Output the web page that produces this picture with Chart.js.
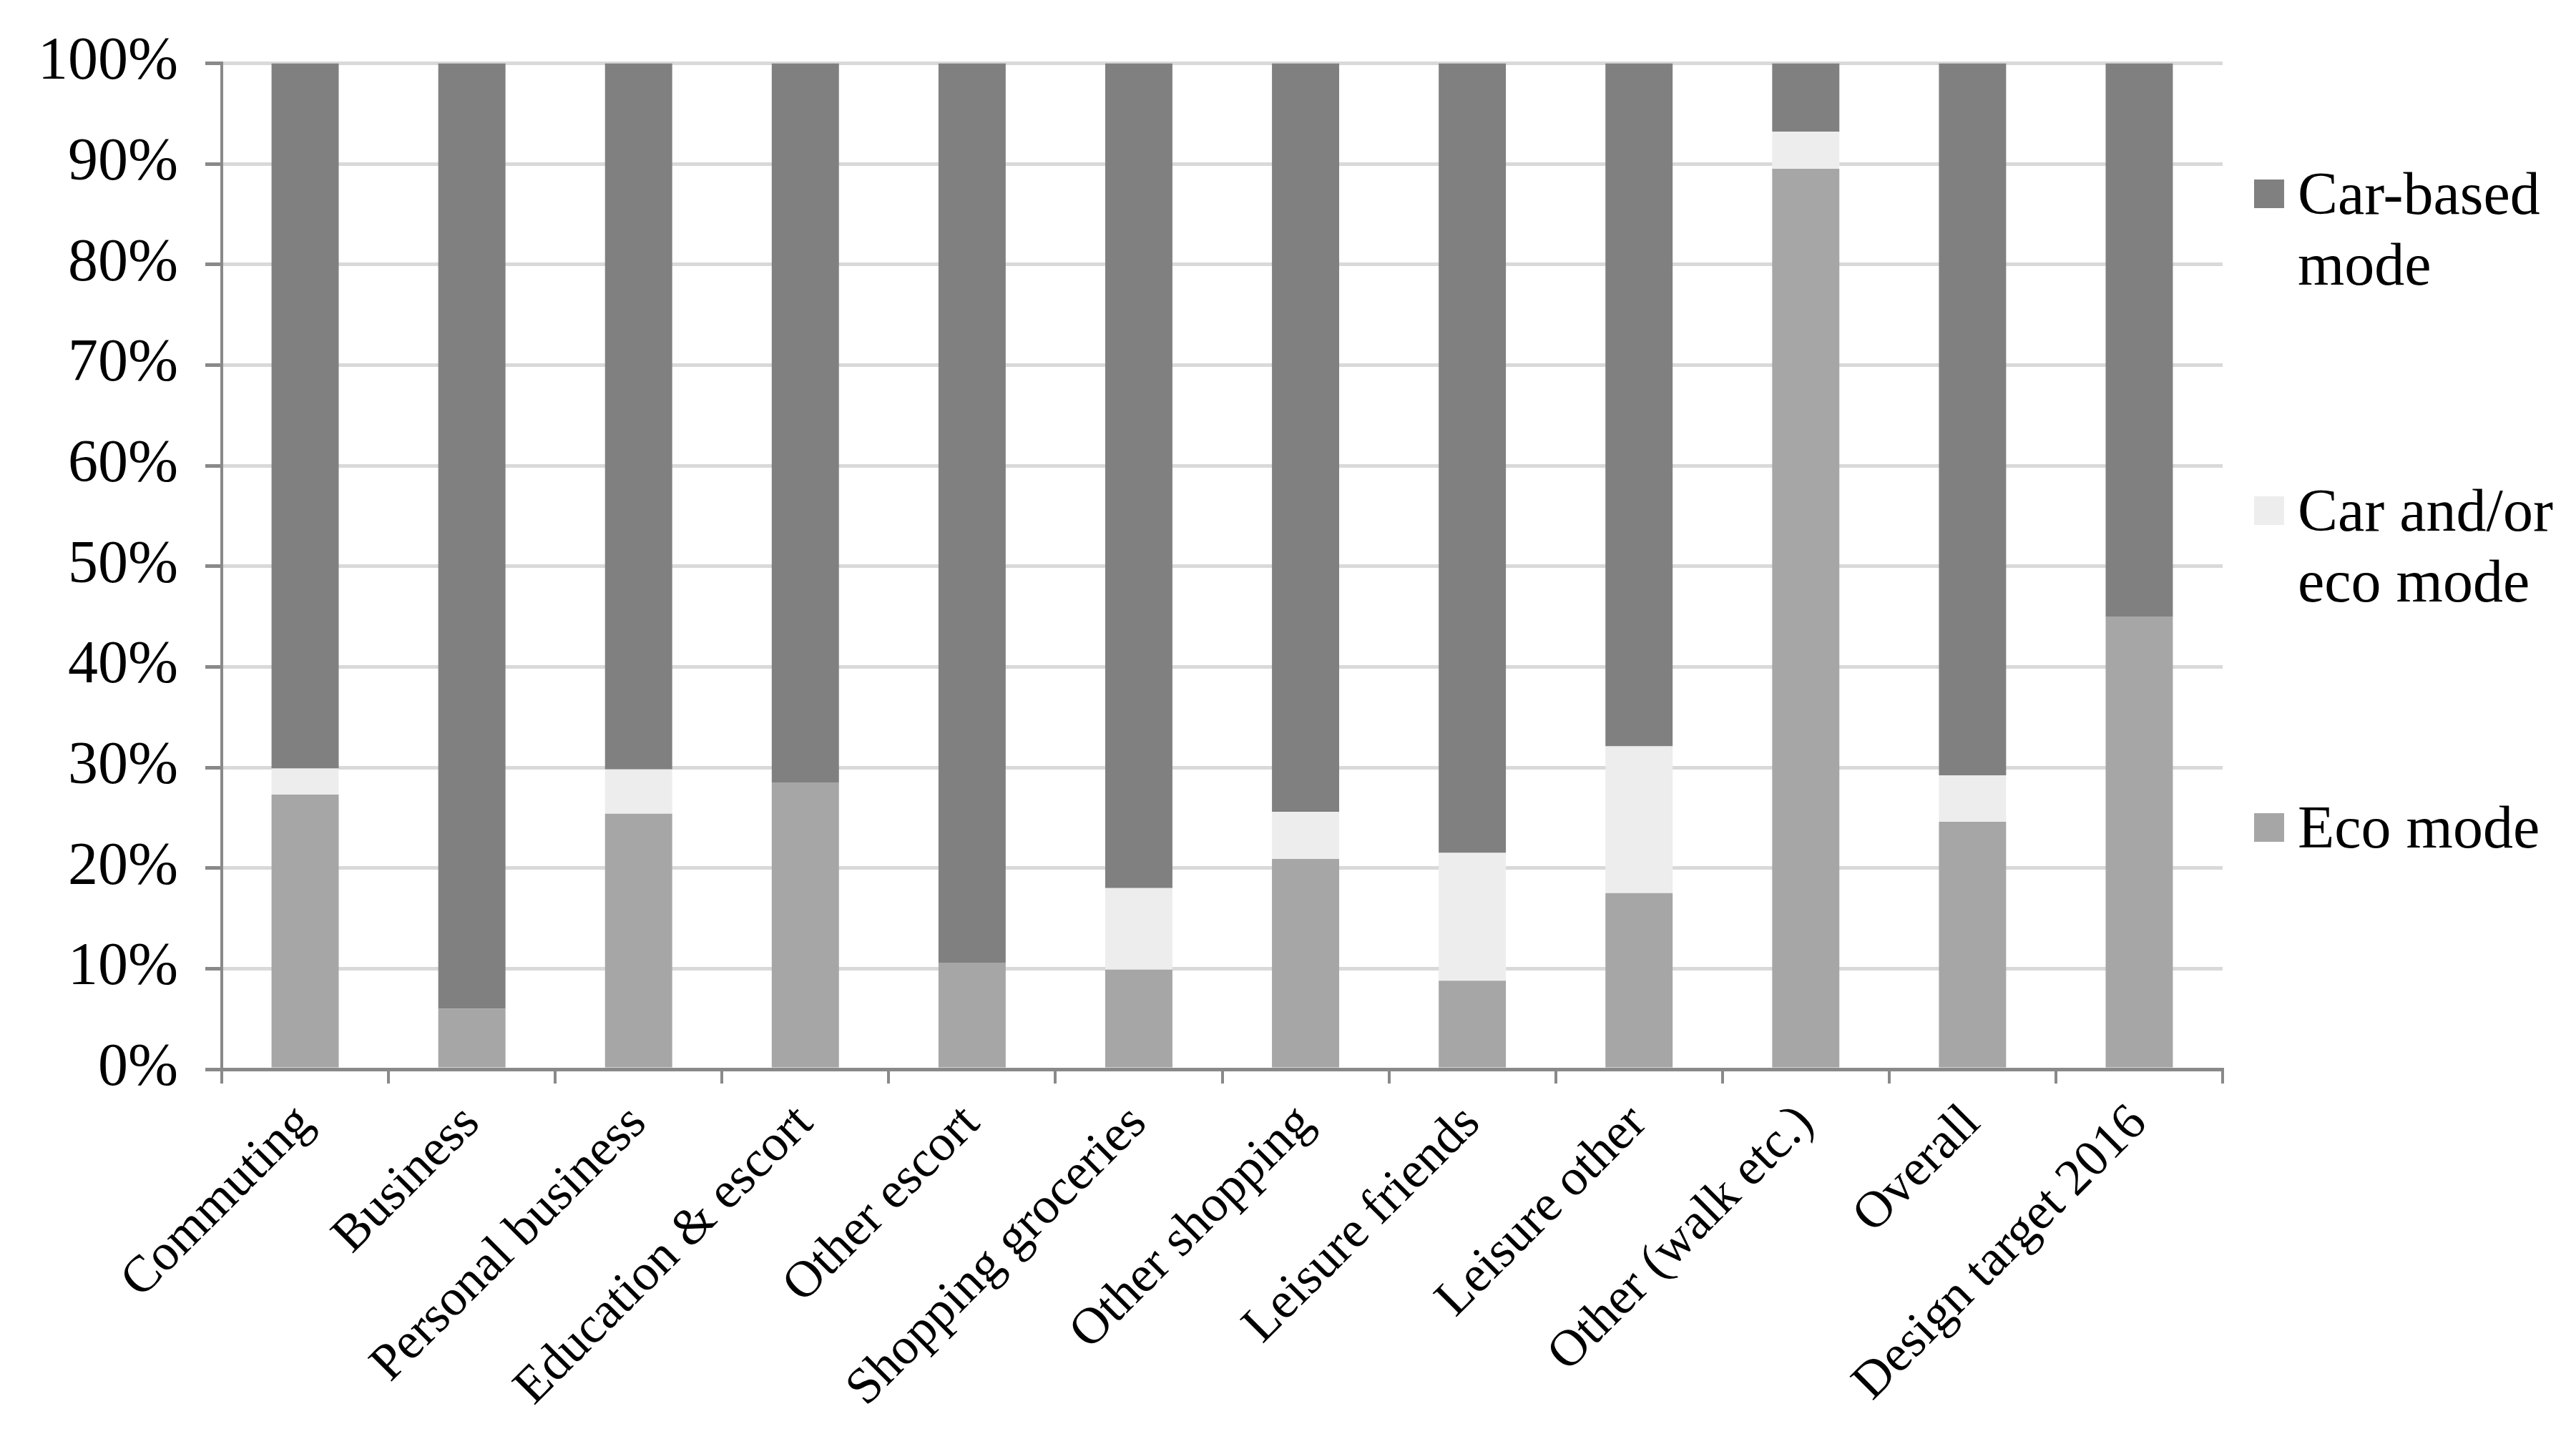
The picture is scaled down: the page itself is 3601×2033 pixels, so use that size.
<!DOCTYPE html>
<html>
<head>
<meta charset="utf-8">
<script src="https://cdn.jsdelivr.net/npm/chart.js@4/dist/chart.umd.min.js"></script>
<style>
  body { margin: 0; background: #fff; }
  #wrap { position: relative; width: 3601px; height: 2033px; }
  #legend {
    position: absolute; left: 3151px; top: 0;
    font-family: "Liberation Serif", "Times New Roman", serif;
    font-size: 84px; line-height: 99px; color: #000;
  }
  .item { position: absolute; left: 0; white-space: nowrap; }
  .box { position: absolute; left: 0; top: 30px; width: 42px; height: 40px; }
  .txt { position: absolute; left: 61px; top: 0; }
</style>
</head>
<body>
<div id="wrap">
  <canvas id="modeChart" width="3601" height="2033"></canvas>
  <div id="legend"></div>
</div>
<script>
const categories = [
  "Commuting", "Business", "Personal business", "Education & escort",
  "Other escort", "Shopping groceries", "Other shopping", "Leisure friends",
  "Leisure other", "Other (walk etc.)", "Overall", "Design target 2016"
];
const ecoMode   = [27.3, 6.0, 25.4, 28.5, 10.6, 9.9, 20.9, 8.8, 17.5, 89.5, 24.6, 45.0];
const carOrEco  = [2.6, 0, 4.4, 0, 0, 8.1, 4.7, 12.7, 14.6, 3.7, 4.6, 0];
const carBased  = [70.1, 94.0, 70.2, 71.5, 89.4, 82.0, 74.4, 78.5, 67.9, 6.8, 70.8, 55.0];

const yMin = 0, yMax = 100, yStep = 10;

// legend entries, top to bottom (lines split like the original)
const legendItems = [
  { lines: ["Car-based", "mode"], color: "#808080", top: 221 },
  { lines: ["Car and/or", "eco mode"], color: "#ededed", top: 664 },
  { lines: ["Eco mode"], color: "#a6a6a6", top: 1107 }
];

const serif = '"Liberation Serif", "Times New Roman", serif';
const axisGrey = "#898989";

const ctx = document.getElementById("modeChart").getContext("2d");

new Chart(ctx, {
  type: "bar",
  data: {
    labels: categories,
    datasets: [
      { label: "Eco mode", data: ecoMode, backgroundColor: "#a6a6a6" },
      { label: "Car and/or eco mode", data: carOrEco, backgroundColor: "#ededed" },
      { label: "Car-based mode", data: carBased, backgroundColor: "#808080" }
    ]
  },
  options: {
    responsive: false,
    animation: false,
    devicePixelRatio: 1,
    datasets: {
      bar: { barPercentage: 0.403, categoryPercentage: 1.0, borderWidth: 0 }
    },
    layout: { padding: { top: 88, right: 494, left: 0, bottom: 0 } },
    plugins: {
      legend: { display: false },
      tooltip: { enabled: false }
    },
    scales: {
      x: {
        stacked: true,
        grid: {
          offset: true,
          drawOnChartArea: false,
          color: axisGrey,
          lineWidth: 4,
          tickLength: 20
        },
        border: { color: axisGrey, width: 5 },
        ticks: {
          color: "#000",
          font: { family: serif, size: 72 },
          minRotation: 45,
          maxRotation: 45,
          autoSkip: false,
          padding: 14
        },
        afterFit: s => { s.height = 538; }
      },
      y: {
        stacked: true,
        min: yMin,
        max: yMax,
        ticks: {
          stepSize: yStep,
          color: "#000",
          font: { family: serif, size: 84 },
          padding: 38,
          callback: v => v + "%"
        },
        grid: {
          color: "#d9d9d9",
          lineWidth: 5,
          tickColor: axisGrey,
          tickWidth: 5,
          tickLength: 23
        },
        border: { color: axisGrey, width: 4 },
        afterFit: s => { s.width = 310; }
      }
    }
  }
});

// HTML LEGEND
const legend = document.getElementById("legend");
legendItems.forEach(it => {
  const div = document.createElement("div");
  div.className = "item";
  div.style.top = it.top + "px";
  const box = document.createElement("div");
  box.className = "box";
  box.style.background = it.color;
  const txt = document.createElement("div");
  txt.className = "txt";
  txt.innerHTML = it.lines.join("<br>");
  div.appendChild(box);
  div.appendChild(txt);
  legend.appendChild(div);
});
</script>
</body>
</html>
